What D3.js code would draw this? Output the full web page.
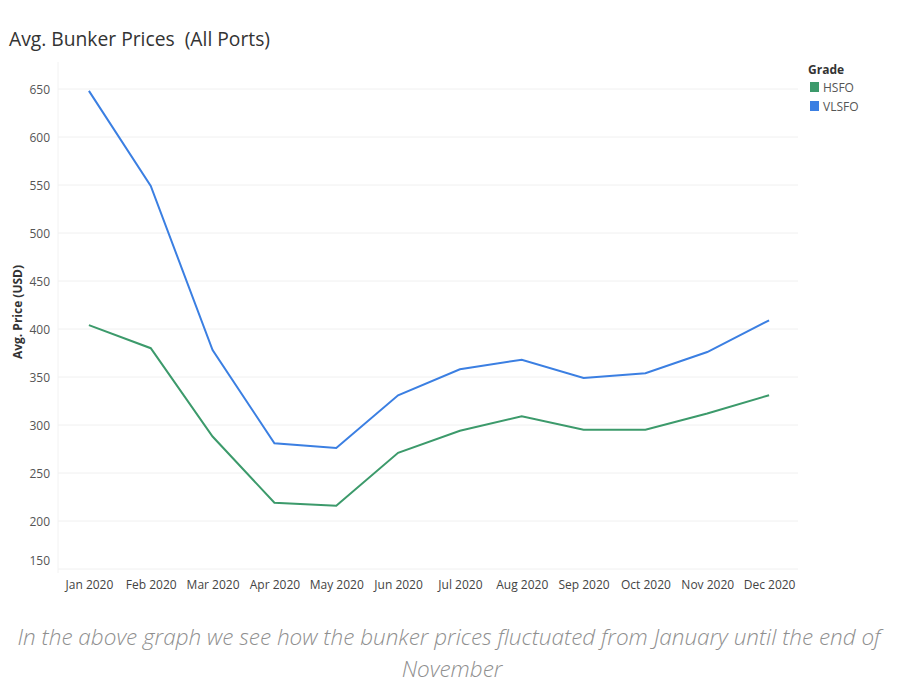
<!DOCTYPE html>
<html>
<head>
<meta charset="utf-8">
<script src="https://cdn.jsdelivr.net/npm/d3@7"></script>
<style>
  body { margin: 0; background: #fff; }
  svg { display: block; }
</style>
</head>
<body>
<div id="chart"></div>
<script>
// monthly averages
var months = ["Jan 2020", "Feb 2020", "Mar 2020", "Apr 2020", "May 2020", "Jun 2020",
  "Jul 2020", "Aug 2020", "Sep 2020", "Oct 2020", "Nov 2020", "Dec 2020"];
var hsfo = [404, 380, 288, 219, 216, 271, 294, 309, 295, 295, 312, 331];
var vlsfo = [648, 549, 378, 281, 276, 331, 358, 368, 349, 354, 376, 409];
var grades = ["HSFO", "VLSFO"];
var yTicks = [150, 200, 250, 300, 350, 400, 450, 500, 550, 600, 650];

var svgWidth = 900;
var svgHeight = 700;

var colors = { HSFO: "#3c9a6b", VLSFO: "#3b7fe2" };

var svg = d3.select("#chart")
  .append("svg")
  .attr("width", svgWidth)
  .attr("height", svgHeight);

// title (keeps the double space)
svg.append("text")
  .attr("x", 9)
  .attr("y", 46)
  .attr("font-family", "Open Sans, sans-serif")
  .attr("font-size", 20)
  .attr("fill", "#333")
  .attr("textLength", 261)
  .attr("lengthAdjust", "spacingAndGlyphs")
  .style("white-space", "pre")
  .text("Avg. Bunker Prices  (All Ports)");

var plot = { left: 58, right: 798, top: 62, bottom: 573 };

var x = d3.scalePoint()
  .domain(months)
  .range([plot.left, plot.right + 2])
  .padding(0.5);

var y = d3.scaleLinear()
  .domain([200, 650])
  .range([521, 89]);

// gridlines
svg.append("g")
  .selectAll("line")
  .data(yTicks)
  .enter()
  .append("line")
  .attr("x1", plot.left)
  .attr("x2", plot.right)
  .attr("y1", d => y(d))
  .attr("y2", d => y(d))
  .attr("stroke", "#f0f0f0")
  .attr("stroke-width", 1);

// faint plot edge
svg.append("line")
  .attr("x1", plot.left).attr("x2", plot.left)
  .attr("y1", plot.top).attr("y2", plot.bottom)
  .attr("stroke", "#f2f2f2");

// y axis
var leftAxis = d3.axisLeft(y).tickValues(yTicks).tickSize(0).tickPadding(8);
var yAxis = svg.append("g")
  .attr("transform", `translate(${plot.left}, 0)`)
  .call(leftAxis);
yAxis.select(".domain").remove();
yAxis.selectAll("text")
  .attr("font-family", "Open Sans, sans-serif")
  .attr("font-size", 12)
  .attr("fill", "#555")
  .attr("dy", "0.35em")
  .attr("y", d => d === 150 ? -9 : 0);

// x axis
var bottomAxis = d3.axisBottom(x).tickSize(0).tickPadding(7);
var xAxis = svg.append("g")
  .attr("transform", `translate(0, ${plot.bottom})`)
  .call(bottomAxis);
xAxis.select(".domain").remove();
xAxis.selectAll("text")
  .attr("font-family", "Open Sans, sans-serif")
  .attr("font-size", 12)
  .attr("fill", "#444");

// y axis title
svg.append("text")
  .attr("transform", "rotate(-90)")
  .attr("x", -312)
  .attr("y", 22)
  .attr("text-anchor", "middle")
  .attr("font-family", "Open Sans, sans-serif")
  .attr("font-weight", "bold")
  .attr("font-size", 12)
  .attr("fill", "#333")
  .text("Avg. Price (USD)");

// lines
var series = [
  { name: "HSFO", values: hsfo },
  { name: "VLSFO", values: vlsfo }
];

var line = d3.line()
  .x((d, i) => x(months[i]))
  .y(d => y(d));

svg.append("g")
  .selectAll("path")
  .data(series)
  .enter()
  .append("path")
  .attr("d", d => line(d.values))
  .attr("fill", "none")
  .attr("stroke", d => colors[d.name])
  .attr("stroke-width", 2);

// legend
var legend = svg.append("g")
  .attr("transform", "translate(808, 0)");

legend.append("text")
  .attr("x", 0)
  .attr("y", 74)
  .attr("font-family", "Open Sans, sans-serif")
  .attr("font-weight", "bold")
  .attr("font-size", 12)
  .attr("fill", "#333")
  .text("Grade");

var items = legend.selectAll(".item")
  .data(grades)
  .enter()
  .append("g")
  .attr("transform", (d, i) => `translate(0, ${88 + i * 19})`);

items.append("rect")
  .attr("x", 2)
  .attr("y", -6)
  .attr("width", 9)
  .attr("height", 10)
  .attr("fill", d => colors[d]);

items.append("text")
  .attr("x", 15)
  .attr("y", 4)
  .attr("font-family", "Open Sans, sans-serif")
  .attr("font-size", 12)
  .attr("fill", "#555")
  .text(d => d);

// caption
var caption = svg.append("g")
  .attr("font-family", "Open Sans, sans-serif")
  .attr("font-style", "italic")
  .attr("font-weight", 300)
  .attr("font-size", 22.5)
  .attr("fill", "#8f8f8f")
  .attr("text-anchor", "middle");

caption.append("text")
  .attr("x", 449)
  .attr("y", 645)
  .text("In the above graph we see how the bunker prices fluctuated from January until the end of");

caption.append("text")
  .attr("x", 452)
  .attr("y", 677)
  .text("November");
</script>
</body>
</html>
